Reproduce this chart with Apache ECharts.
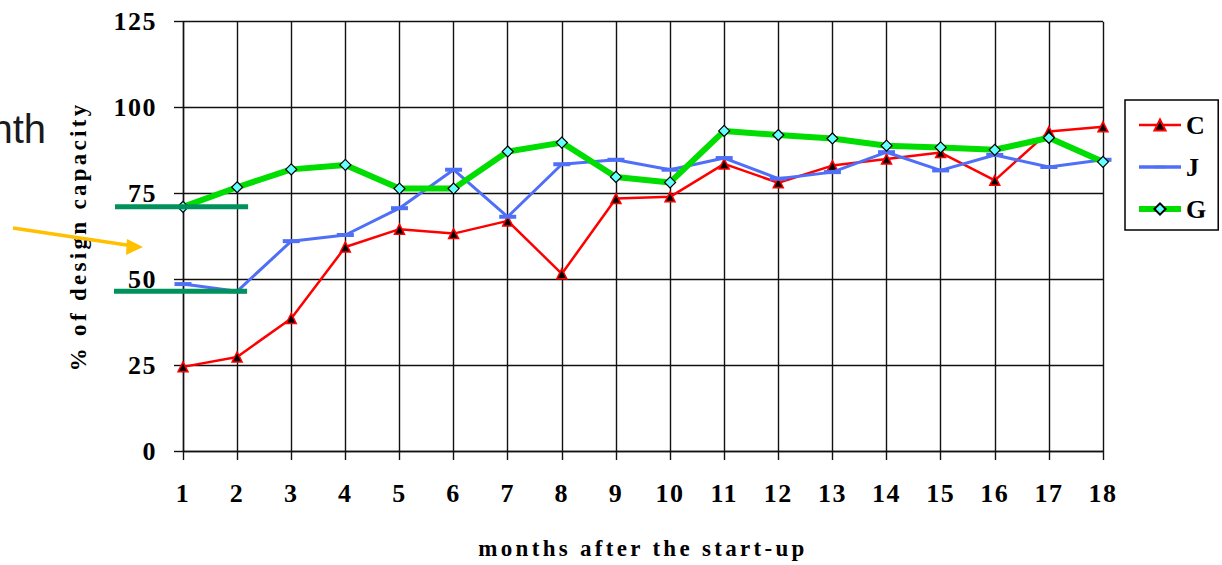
<!DOCTYPE html>
<html>
<head>
<meta charset="utf-8">
<script src="https://cdn.jsdelivr.net/npm/echarts@6/dist/echarts.min.js"></script>
<style>
  html, body { margin: 0; padding: 0; background: #fff; }
  #chart { width: 1222px; height: 565px; }
  /* wide tracking for the serif captions and tick labels */
  #chart text[style*="23px"] { letter-spacing: 3.3px; }
  #chart text[style*="26px"] { letter-spacing: 1.5px; }
</style>
</head>
<body>
<div id="chart"></div>
<script>
// months after start-up
const months = ['1','2','3','4','5','6','7','8','9','10','11','12','13','14','15','16','17','18'];
// % of design capacity per plant
const seriesC = [24.5, 27.4, 38.6, 59.4, 64.6, 63.3, 67.0, 51.6, 73.5, 74.0, 83.6, 78.1, 83.1, 85.0, 86.9, 78.8, 93.0, 94.4];
const seriesJ = [48.6, 46.5, 61.1, 62.9, 70.7, 81.9, 68.2, 83.5, 84.8, 81.9, 85.3, 79.3, 81.2, 87.0, 81.7, 86.2, 82.7, 84.8];
const seriesG = [71.1, 76.8, 82.0, 83.3, 76.4, 76.4, 87.2, 89.8, 79.8, 78.2, 93.2, 92.0, 91.0, 88.9, 88.4, 87.7, 91.2, 84.2];
const yTicks = [0, 25, 50, 75, 100, 125];

const serif = '"Liberation Serif", "Times New Roman", serif';
const gridLine = { color: '#111', width: 1.4 };
const colorC = '#ff0000', colorJ = '#4f6ff7', colorG = '#00dd00';
// horizontal dash marker inside a square box, so it stays flat wherever it is drawn
const dash = 'path://M0,0 M0,6.5 L17,6.5 L17,10.5 L0,10.5 Z M17,17';

const chart = echarts.init(document.getElementById('chart'), null, { renderer: 'svg' });

chart.setOption({
  animation: false,
  backgroundColor: '#fff',
  grid: { left: 183, right: 119, top: 21.7, bottom: 111.3, containLabel: false },
  legend: {
    orient: 'vertical',
    left: 1125,
    top: 100,
    padding: [12, 12, 8, 11],
    itemGap: 16,
    itemWidth: 42,
    itemHeight: 14,
    borderColor: '#000',
    borderWidth: 1.5,
    backgroundColor: '#fff',
    textStyle: { fontFamily: serif, fontWeight: 'bold', fontSize: 26, color: '#000' },
    data: [
      { name: 'C', lineStyle: { color: colorC, width: 2.5 } },
      { name: 'J', lineStyle: { color: colorJ, width: 3.5 } },
      { name: 'G', lineStyle: { color: colorG, width: 6 } }
    ]
  },
  xAxis: {
    type: 'category',
    data: months,
    boundaryGap: false,
    name: 'months after the start-up',
    nameLocation: 'middle',
    nameGap: 86,
    nameTextStyle: { fontFamily: serif, fontWeight: 'bold', fontSize: 23, color: '#000' },
    axisLine: { show: true, lineStyle: gridLine },
    axisTick: { show: true, length: 9, lineStyle: gridLine, alignWithLabel: true },
    splitLine: { show: true, lineStyle: gridLine },
    axisLabel: { margin: 29, fontFamily: serif, fontWeight: 'bold', fontSize: 26, color: '#000' }
  },
  yAxis: {
    type: 'value',
    min: yTicks[0],
    max: yTicks[yTicks.length - 1],
    interval: 25,
    name: '% of design capacity',
    nameLocation: 'middle',
    nameRotate: 90,
    nameGap: 93,
    nameTextStyle: { fontFamily: serif, fontWeight: 'bold', fontSize: 23, color: '#000' },
    axisLine: { show: true, lineStyle: gridLine },
    axisTick: { show: true, length: 9, lineStyle: gridLine },
    splitLine: { show: true, lineStyle: gridLine },
    axisLabel: { margin: 26, fontFamily: serif, fontWeight: 'bold', fontSize: 26, color: '#000' }
  },
  series: [
    {
      name: 'C', type: 'line', data: seriesC, z: 3,
      symbol: 'triangle', symbolSize: 10, showAllSymbol: true,
      lineStyle: { color: colorC, width: 2.5 },
      itemStyle: { color: '#000', borderColor: colorC, borderWidth: 1.5 }
    },
    {
      name: 'J', type: 'line', data: seriesJ, z: 4,
      symbol: dash, symbolSize: 17, showAllSymbol: true,
      lineStyle: { color: colorJ, width: 3 },
      itemStyle: { color: colorJ, borderWidth: 0 }
    },
    {
      name: 'G', type: 'line', data: seriesG, z: 5,
      symbol: 'diamond', symbolSize: 11, showAllSymbol: true,
      lineStyle: { color: colorG, width: 6 },
      itemStyle: { color: '#66ffff', borderColor: '#000', borderWidth: 1.2 }
    }
  ]
});

// reference bars at the first G and second J readings, plus the pointer arrow and caption
const yUpper = chart.convertToPixel({ yAxisIndex: 0 }, seriesG[0]);
const yLower = chart.convertToPixel({ yAxisIndex: 0 }, seriesJ[1]);
const xFirst = chart.convertToPixel({ xAxisIndex: 0 }, months[0]);
const xSecond = chart.convertToPixel({ xAxisIndex: 0 }, months[1]);
const barStyle = { stroke: '#00925a', lineWidth: 5 };

chart.setOption({
  graphic: [
    { type: 'line', z: 100, shape: { x1: xFirst - 68, y1: yUpper, x2: xSecond + 11, y2: yUpper }, style: barStyle },
    { type: 'line', z: 100, shape: { x1: xFirst - 69, y1: yLower, x2: xSecond + 10, y2: yLower }, style: barStyle },
    { type: 'line', z: 100, shape: { x1: 13, y1: 228, x2: 130, y2: 245.5 }, style: { stroke: '#ffc000', lineWidth: 3.5 } },
    { type: 'polygon', z: 100, shape: { points: [[143, 247], [127, 239], [126, 255]] }, style: { fill: '#ffc000' } },
    {
      type: 'text', z: 100, x: 46, y: 129,
      style: { text: 'month', align: 'right', verticalAlign: 'middle', font: '40px "Liberation Sans", Arial, sans-serif', fill: '#1a1a1a' }
    }
  ]
});
</script>
</body>
</html>
